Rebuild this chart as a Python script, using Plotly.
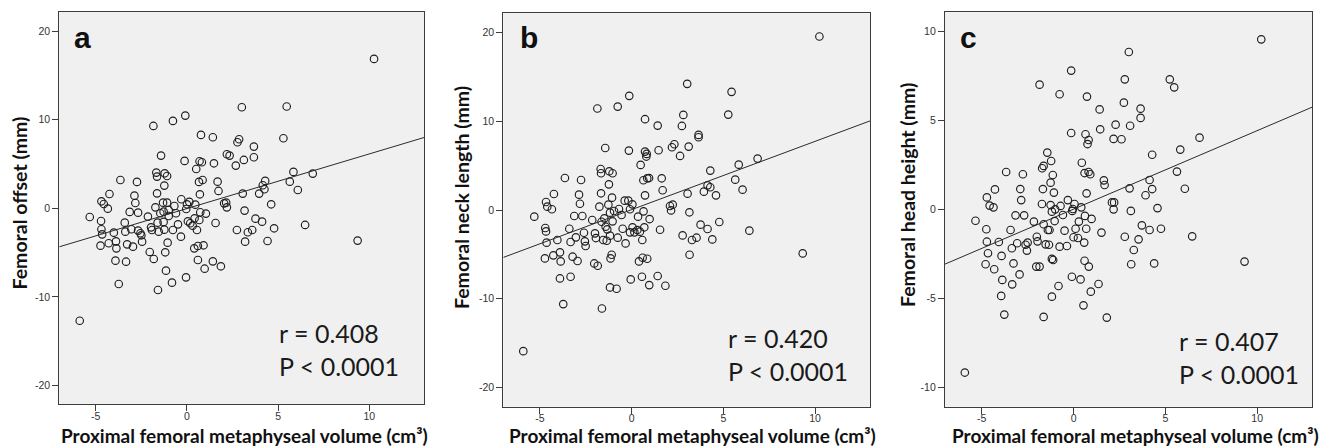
import plotly.graph_objects as go

# ---------------- data ----------------
ax = [-5.33,-5.88,-4.69,-4.56,-4.34,-4.71,-4.69,-4.65,-4.74,-4.25,-4.01,-4.29,-3.89,-3.87,-3.92,-3.65,-3.74,
      -3.14,-3.41,-3.38,-3.28,-3.34,-3.05,-2.96,-2.88,-2.83,-2.74,-2.68,-2.68,-2.55,-2.50,-2.46,-2.14,-2.04,
      -1.97,-1.92,-1.82,-1.84,-1.73,-1.64,-1.68,-1.64,-1.61,-1.59,-1.55,-1.46,-1.42,-1.31,-1.28,-1.28,-1.24,
      -1.24,-1.22,-1.19,-1.15,-1.09,-1.09,-1.06,-1.00,-1.00,-0.82,-0.77,-0.77,-0.69,-0.60,-0.49,-0.33,-0.31,
      -0.13,-0.09,-0.05,-0.04,0.00,0.05,0.13,0.18,0.31,0.42,0.46,0.40,0.51,0.55,0.60,0.60,0.66,0.68,0.69,0.71,
      0.73,0.77,0.82,0.86,0.91,0.97,1.04,1.42,1.42,1.48,1.57,1.68,1.73,1.86,2.04,2.15,2.19,2.19,2.34,2.68,2.74,
      2.77,2.86,3.01,5.47,10.26,5.29,3.67,3.12,3.67,5.84,6.90,5.64,6.08,4.29,4.16,4.25,3.96,3.06,4.62,3.16,3.76,
      4.12,4.78,3.34,3.58,3.19,4.42,6.48,9.36]
ay = [-0.98,-12.7,0.79,0.49,-0.04,-1.43,-2.37,-2.94,-4.22,1.62,-2.75,-3.95,-3.73,-4.52,-5.91,3.20,-8.55,
      -0.41,-1.62,-2.64,-4.07,-6.03,-2.37,-4.33,1.43,0.60,2.98,-0.49,-2.52,-2.82,-3.05,-3.77,-0.94,-4.93,
      -2.15,-2.45,-5.72,9.30,0.11,1.69,4.03,3.58,-1.62,-9.23,-2.64,-0.56,5.95,0.64,-0.38,-1.54,2.56,
      -2.41,3.95,-4.97,-7.04,3.65,0.64,-3.88,-0.19,-0.87,-8.40,9.87,-2.45,0.26,-0.56,-1.81,-3.20,1.02,
      5.35,10.47,-7.80,-0.08,0.45,-1.47,0.72,-1.69,-1.96,-1.13,0.41,-4.52,4.44,-2.45,-5.84,-4.26,2.98,-1.32,5.31,1.58,
      -0.45,8.29,5.20,3.20,-4.18,-6.82,-0.60,8.02,-5.99,5.08,-1.66,3.01,1.96,-6.55,0.56,0.64,0.11,6.10,5.95,4.82,-2.45,
      7.46,7.80,11.41,11.49,16.87,7.91,6.97,5.46,5.76,4.11,3.92,3.01,2.07,3.09,2.60,2.15,1.66,1.66,0.45,-0.26,-1.17,
      -1.51,-2.26,-2.71,-2.45,-3.77,-3.69,-1.88,-3.65]

bx = [-5.31,-5.91,-4.67,-4.60,-4.35,-4.24,-4.71,-4.67,-4.64,-4.73,-4.27,-4.05,-3.91,-3.87,-3.91,-3.73,-3.64,
      -3.40,-3.33,-3.33,-3.22,-3.13,-3.04,-2.95,-2.87,-2.82,-2.76,-2.69,-2.60,-2.55,-2.51,-2.15,-2.04,-2.00,
      -1.95,-1.87,-1.85,-1.76,-1.69,-1.67,-1.67,-1.64,-1.62,-1.55,-1.49,-1.44,-1.42,-1.36,-1.33,-1.27,-1.24,
      -1.22,-1.18,-1.18,-1.18,-1.15,-1.09,-1.07,-1.04,-1.04,-0.96,-0.82,-0.76,-0.76,-0.69,-0.55,-0.49,-0.38,
      -0.33,-0.18,-0.15,-0.13,-0.09,-0.09,-0.05,0.04,0.05,0.15,0.31,0.35,0.40,0.45,0.49,0.56,0.58,0.60,0.64,
      0.65,0.69,0.73,0.73,0.73,0.80,0.82,0.85,0.85,0.95,0.96,0.98,1.42,1.42,1.47,1.55,1.64,1.69,1.84,
      3.03,5.45,10.24,2.82,5.27,2.74,3.65,3.65,2.20,2.33,3.11,2.64,4.29,5.84,6.87,5.65,6.05,4.14,4.29,3.94,
      4.60,3.05,2.09,2.24,2.15,3.15,3.76,4.14,4.78,2.78,3.29,3.54,4.40,3.16,6.42,9.33]
by = [-0.75,-15.9,0.90,0.38,0.08,1.80,-2.03,-2.41,-3.68,-5.45,-5.11,-3.38,-4.77,-5.79,-7.71,-10.6,3.61,
      -2.11,-3.61,-7.52,-5.26,-0.68,-3.08,-5.75,1.73,0.71,3.38,-0.68,-2.56,-3.53,-4.06,-1.13,-6.02,-2.63,
      -3.16,11.43,-6.28,0.38,4.62,1.88,4.14,-1.32,-11.1,-3.38,-0.94,6.99,-1.88,-3.46,-2.18,0.60,2.89,
      4.36,-0.30,-2.89,-8.72,-5.45,-5.04,1.39,4.14,-1.28,-0.11,-8.87,11.65,-3.12,0.11,-0.56,-2.11,1.05,
      -3.76,1.05,6.69,12.86,0.08,-2.52,-7.82,0.64,-1.95,-2.52,-2.26,-0.75,-5.79,-2.44,5.08,-7.52,-3.38,-5.38,3.35,
      -0.15,-1.95,1.65,10.23,6.58,6.02,6.32,-5.49,3.57,3.60,-8.46,-1.02,9.51,-7.44,6.73,-2.22,3.57,2.22,-8.53,
      14.21,13.31,19.55,10.71,10.75,9.47,8.46,8.20,7.07,7.41,7.14,6.09,4.44,5.11,5.79,3.42,2.29,2.78,2.56,2.07,
      1.65,1.84,0.45,0.60,-0.05,-0.26,-1.65,-2.14,-1.35,-2.86,-3.38,-3.12,-3.31,-5.04,-2.33,-4.89]

cx = [-5.34,-5.92,-4.72,-4.57,-4.36,-4.28,-4.75,-4.72,-4.66,-4.79,-4.32,-4.07,-3.92,-3.88,-3.94,-3.77,-3.67,
      -3.43,-3.36,-3.34,-3.27,-3.16,-3.07,-2.94,-2.90,-2.85,-2.76,-2.69,-2.61,-2.54,-2.50,-2.16,-2.03,-2.00,
      -1.96,-1.85,-1.85,-1.72,-1.71,-1.67,-1.63,-1.63,-1.63,-1.52,-1.43,-1.40,-1.34,-1.31,-1.25,-1.25,-1.22,
      -1.18,-1.18,-1.18,-1.13,-1.11,-1.07,-1.03,-1.00,-0.82,-0.76,-0.76,-0.71,-0.58,-0.49,-0.36,-0.31,-0.13,
      -0.13,-0.09,-0.07,-0.04,0.00,0.05,0.11,0.24,0.29,0.38,0.42,0.45,0.54,0.58,0.60,0.60,0.62,0.65,0.69,0.71,
      0.73,0.76,0.82,0.82,0.83,0.91,0.94,0.98,1.36,1.42,1.45,1.52,1.65,1.69,1.81,
      3.01,2.79,5.24,5.48,10.22,2.74,3.65,3.65,3.08,2.29,2.18,2.61,6.86,4.28,5.81,5.63,4.14,3.05,4.28,6.06,
      3.92,2.09,2.21,2.18,3.12,4.57,3.72,4.14,4.76,2.79,3.54,3.28,3.14,4.39,6.46,9.31]
cy = [-0.64,-9.18,0.67,0.21,0.11,1.12,-1.12,-1.82,-2.47,-3.09,-3.37,-1.84,-2.62,-3.97,-4.87,-5.92,2.10,
      -1.16,-2.19,-4.22,-3.04,-0.34,-1.91,-3.66,1.14,0.52,1.97,-0.34,-1.99,-2.32,-1.87,-0.69,-3.22,-1.54,
      -1.80,7.01,-3.22,0.30,2.31,1.14,2.44,-0.84,-6.05,-1.97,3.19,-1.16,-1.99,-1.16,1.50,0.24,2.72,
      -0.13,-2.79,-4.91,1.93,-2.85,0.94,-0.66,0.00,-4.31,6.47,-2.10,0.19,-0.32,-1.20,-2.06,0.52,7.80,
      4.29,-3.79,-0.09,0.02,-1.57,0.30,-1.09,-1.61,-0.69,-3.94,0.11,2.62,-5.40,-1.87,2.04,-2.89,-0.37,4.22,-1.09,0.90,
      6.34,3.67,3.90,2.10,-3.22,1.97,-4.63,-0.54,-4.20,5.62,4.50,-1.31,1.63,1.37,-6.09,
      8.85,7.31,7.31,6.86,9.56,6.00,5.66,5.14,4.70,4.76,3.96,3.94,4.03,3.07,3.36,2.12,1.65,1.18,1.14,1.16,
      0.79,0.39,0.39,0.00,-0.09,0.07,-0.90,-1.16,-1.09,-1.54,-1.69,-2.29,-3.09,-3.04,-1.52,-2.94]

# regression lines (slope, intercept)
fit_a = (0.617, -0.03)
fit_b = (0.769, 0.04)
fit_c = (0.4415, 0.01)
x_range = [-7, 13]

y_titles = ["Femoral offset (mm)", "Femoral neck length (mm)", "Femoral head height (mm)"]
x_title = "Proximal femoral metaphyseal volume (cm³)"
panel_letters = ["a", "b", "c"]
stats_text = ["r = 0.408<br>P < 0.0001", "r = 0.420<br>P < 0.0001", "r = 0.407<br>P < 0.0001"]
x_ticks = [-5, 0, 5, 10]
x_tick_labels = ["-5", "0", "5", "10"]
y_ticks_ab = [-20, -10, 0, 10, 20]
y_tick_labels_ab = ["-20", "-10", "0", "10", "20"]
y_ticks_c = [-10, -5, 0, 5, 10]
y_tick_labels_c = ["-10", "-5", "0", "5", "10"]

# ---------------- figure ----------------
W, H = 1326, 446
fig = go.Figure()

panels = [
    dict(x=ax, y=ay, fit=fit_a, xd=(59.3, 424), yd=(404, 11.7), yr=[-22.1, 22.2],
         yt=y_ticks_ab, ytl=y_tick_labels_ab),
    dict(x=bx, y=by, fit=fit_b, xd=(503.3, 870), yd=(406.7, 13.3), yr=[-22.16, 22.16],
         yt=y_ticks_ab, ytl=y_tick_labels_ab),
    dict(x=cx, y=cy, fit=fit_c, xd=(945, 1312.3), yd=(406.7, 12.3), yr=[-11.1, 11.08],
         yt=y_ticks_c, ytl=y_tick_labels_c),
]

ytitle_pos = [(18.5, 203), (462, 198), (907, 195)]
xtitle_pos = [(244, 435.5), (692, 435.5), (1135, 435.5)]
letter_pos = [(72, 37), (518, 37), (958, 37)]
stats_pos = [(276.7, 349), (726, 354.5), (1176.7, 357)]

for i, p in enumerate(panels):
    sfx = "" if i == 0 else str(i + 1)
    xa, ya = "x" + sfx, "y" + sfx
    fig.add_trace(go.Scatter(
        x=p["x"], y=p["y"], mode="markers", xaxis=xa, yaxis=ya,
        marker=dict(symbol="circle-open", size=7.5, color="#1e1e1e", line=dict(width=1.15)),
        showlegend=False, hoverinfo="skip"))
    m, b = p["fit"]
    fig.add_trace(go.Scatter(
        x=x_range, y=[m * x_range[0] + b, m * x_range[1] + b], mode="lines",
        xaxis=xa, yaxis=ya, line=dict(color="#2a2a2a", width=1),
        showlegend=False, hoverinfo="skip"))
    axis_common = dict(showgrid=False, zeroline=False, showline=True, linecolor="#3c3c3c",
                       linewidth=1.2, mirror=True, ticks="outside", ticklen=6, tickwidth=1,
                       tickcolor="#3c3c3c",
                       tickfont=dict(family="Liberation Sans, Arial", size=10.5, color="#333333"))
    fig.layout["xaxis" + sfx] = dict(
        axis_common, domain=[p["xd"][0] / W, p["xd"][1] / W], range=x_range,
        tickvals=x_ticks, ticktext=x_tick_labels, anchor=ya, fixedrange=True,
        ticklabelstandoff=-4)
    fig.layout["yaxis" + sfx] = dict(
        axis_common, domain=[1 - p["yd"][0] / H, 1 - p["yd"][1] / H], range=p["yr"],
        tickvals=p["yt"], ticktext=p["ytl"], anchor=xa, fixedrange=True)

    tx, ty = ytitle_pos[i]
    fig.add_annotation(x=tx / W, y=1 - ty / H, xref="paper", yref="paper", text=y_titles[i],
                       textangle=-90, showarrow=False, xanchor="center", yanchor="middle",
                       font=dict(family="Lato", size=19.5, color="#111111", weight="bold"))
    tx, ty = xtitle_pos[i]
    fig.add_annotation(x=tx / W, y=1 - ty / H, xref="paper", yref="paper", text=x_title,
                       showarrow=False, xanchor="center", yanchor="middle",
                       font=dict(family="Lato", size=19, color="#111111", weight="bold"))
    tx, ty = letter_pos[i]
    fig.add_annotation(x=tx / W, y=1 - ty / H, xref="paper", yref="paper", text=panel_letters[i],
                       showarrow=False, xanchor="left", yanchor="middle",
                       font=dict(family="Liberation Sans, Arial", size=30, color="#111111", weight="bold"))
    tx, ty = stats_pos[i]
    fig.add_annotation(x=tx / W, y=1 - ty / H, xref="paper", yref="paper", text=stats_text[i],
                       showarrow=False, xanchor="left", yanchor="middle", align="left",
                       font=dict(family="Lato", size=25, color="#1a1a1a"))

fig.update_layout(
    width=W, height=H, margin=dict(l=0, r=0, t=0, b=0),
    paper_bgcolor="white", plot_bgcolor="#f0f0f0",
    font=dict(family="Liberation Sans, Arial"),
)

fig.write_html("out.html", config={"displayModeBar": False},
               post_script="document.body.style.margin='0px';")
